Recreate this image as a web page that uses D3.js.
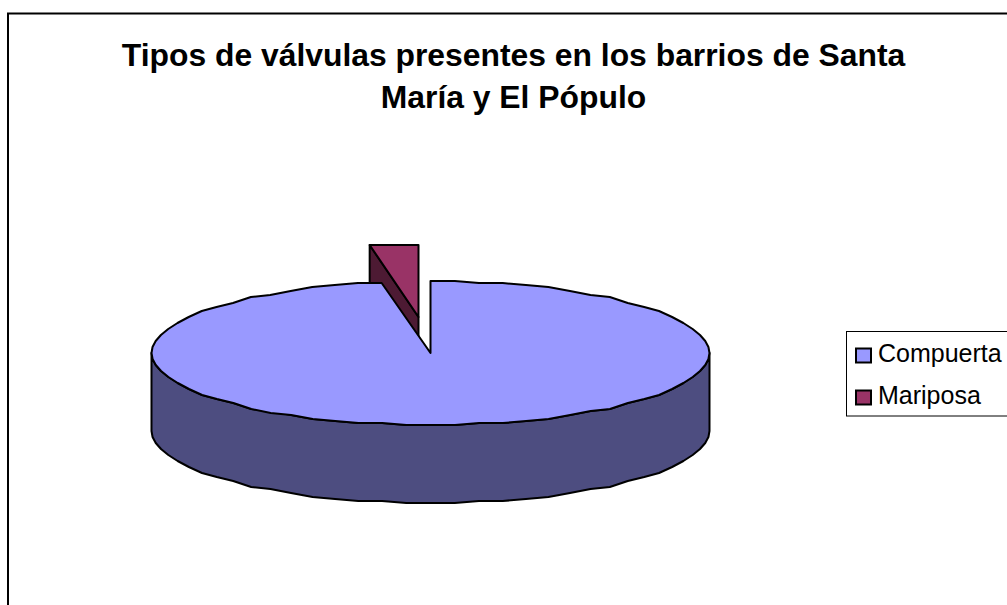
<!DOCTYPE html>
<html><head><meta charset="utf-8">
<script src="https://cdn.jsdelivr.net/npm/d3@7"></script>
<style>html,body{margin:0;padding:0;background:#fff}svg{display:block}</style>
</head><body>
<svg id="c" width="1007" height="605"></svg>
<script>
const categories = ["Compuerta", "Mariposa"];
const values = [97.2, 2.8];
const colors = ["#9999FF", "#993366"];
const sideColors = ["#4D4D80", "#4D1A33"];
const titleLines = ["Tipos de válvulas presentes en los barrios de Santa", "María y El Pópulo"];

const svg = d3.select("#c");
const font = "'Liberation Sans', Arial, sans-serif";

// frame
svg.append("rect").attr("x", 8).attr("y", 13.5).attr("width", 1100).attr("height", 800)
  .attr("fill", "#fff").attr("stroke", "#000").attr("stroke-width", 2);

// title
svg.append("g").selectAll("text").data(titleLines).join("text")
  .attr("x", 513.5).attr("y", (d, i) => 66 + i * 42)
  .attr("text-anchor", "middle").attr("font-family", font)
  .attr("font-weight", "bold").attr("font-size", 31.85).attr("fill", "#000").text(d => d);

// pie geometry
const pie = d3.pie().sort(null).value(d => d);
const arcs = pie(values);
const cx = 430.5, cy = 353, rx = 279, ry = 72, depth = 78;
const explode = { x: -12, y: -36 };
const xs = d3.scaleLinear().domain([-1, 1]).range([cx - rx, cx + rx]);
const ys = d3.scaleLinear().domain([-1, 1]).range([cy - ry, cy + ry]);
const line = d3.line().x(d => d[0]).y(d => d[1]);
const STEP = Math.PI * 2 / 72;
function rimPoints(a0, a1, grid) {
  const n = Math.max(1, Math.round((a1 - a0) / STEP));
  return d3.range(n + 1).map(i => {
    const t = a0 + (a1 - a0) * i / n;
    // the source's coarse polygon: rim heights snap to a small grid
    const y = ys(-Math.cos(t));
    return [xs(Math.sin(t)), cy + Math.round((y - cy) / grid) * grid];
  });
}
const g = svg.append("g").attr("stroke", "#000").attr("stroke-width", 2).attr("stroke-linejoin", "round");

// exploded slice (behind)
const small = arcs[1];
const sg = g.append("g").attr("transform", `translate(${explode.x},${explode.y})`);
const tip = [xs(0), ys(0)];
const smallRim = rimPoints(small.startAngle, small.endAngle, 3);
const p0 = smallRim[0];
sg.append("path").attr("fill", sideColors[1])
  .attr("d", line([tip, p0, [p0[0], p0[1] + depth], [tip[0], tip[1] + depth]]) + "Z");
sg.append("path").attr("fill", colors[1])
  .attr("d", line([tip, ...smallRim]) + "Z");

// main slice: side wall, then top
const big = arcs[0];
const front = rimPoints(Math.PI / 2, 3 * Math.PI / 2, 2);
g.append("path").attr("fill", sideColors[0])
  .attr("d", line([...front, ...front.slice().reverse().map(p => [p[0], p[1] + depth])]) + "Z");
g.append("path").attr("fill", colors[0])
  .attr("d", line([tip, ...rimPoints(big.startAngle, big.endAngle, 2)]) + "Z");

// legend
const lg = svg.append("g");
lg.append("rect").attr("x", 846.5).attr("y", 331.5).attr("width", 200).attr("height", 84.5)
  .attr("fill", "#fff").attr("stroke", "#000").attr("stroke-width", 1);
const row = lg.selectAll("g").data(categories).join("g")
  .attr("transform", (d, i) => `translate(0,${i * 42})`);
row.append("rect").attr("x", 856).attr("y", 348.5).attr("width", 15).attr("height", 14)
  .attr("fill", (d, i) => colors[i]).attr("stroke", "#000").attr("stroke-width", 2);
row.append("text").attr("x", 878).attr("y", 362).attr("font-family", font)
  .attr("font-size", 25).attr("fill", "#000").text(d => d);
</script>
</body></html>
